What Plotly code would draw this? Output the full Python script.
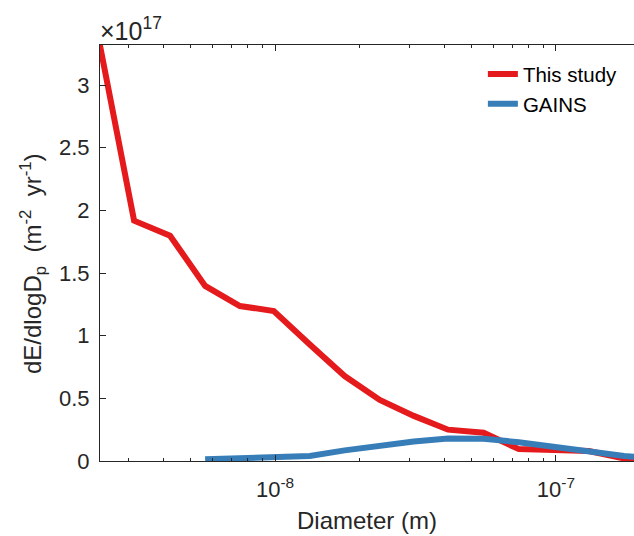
import plotly.graph_objects as go

# Diameter (m)
x_red = [2.38e-9, 3.15e-9, 4.23e-9, 5.64e-9, 7.5e-9, 9.9e-9, 1.33e-8, 1.77e-8,
         2.36e-8, 3.12e-8, 4.13e-8, 5.53e-8, 7.38e-8, 9.84e-8, 1.31e-7, 1.75e-7, 1.9e-7]
# dE/dlogDp in units of 1e17 m^-2 yr^-1
y_red = [3.32, 1.918, 1.798, 1.397, 1.237, 1.197, 0.93, 0.678,
         0.487, 0.36, 0.25, 0.225, 0.095, 0.09, 0.08, 0.02, 0.004]

x_blue = [5.64e-9, 7.5e-9, 9.9e-9, 1.33e-8, 1.77e-8, 2.36e-8, 3.12e-8, 4.13e-8,
          5.53e-8, 7.38e-8, 9.84e-8, 1.31e-7, 1.75e-7, 1.9e-7]
y_blue = [0.013, 0.022, 0.03, 0.04, 0.085, 0.125, 0.155, 0.18,
          0.177, 0.15, 0.11, 0.072, 0.04, 0.034]

names = ["This study", "GAINS"]
colors = ["#E41A1C", "#377EB8"]

y_ticks = [0, 0.5, 1, 1.5, 2, 2.5, 3]
y_ticktext = ["0", "0.5", "1", "1.5", "2", "2.5", "3"]
x_ticks = [1e-8, 1e-7]
x_ticktext = ["10<sup>-8</sup>", "10<sup>-7</sup>"]
x_minor = [m * 10.0 ** e for e in (-9, -8, -7) for m in range(2, 10)]

FONT = "Liberation Sans, Arial, Helvetica, sans-serif"
AX = "#262626"

fig = go.Figure()
fig.add_trace(go.Scatter(x=x_red, y=y_red, mode="lines", name=names[0],
                         line=dict(color=colors[0], width=6)))
fig.add_trace(go.Scatter(x=x_blue, y=y_blue, mode="lines", name=names[1],
                         line=dict(color=colors[1], width=6)))

fig.update_layout(
    width=634, height=536,
    margin=dict(l=100, r=0, t=45, b=75),
    paper_bgcolor="white", plot_bgcolor="white",
    font=dict(family=FONT, size=22, color=AX),
    showlegend=True,
    legend=dict(x=0.717, y=0.978, xanchor="left", yanchor="top",
                bgcolor="rgba(0,0,0,0)", font=dict(size=20.5, color="black"),
                tracegroupgap=0, itemwidth=30),
    xaxis=dict(type="log", range=[-8.623, -6.722],
               tickmode="array", tickvals=x_ticks, ticktext=x_ticktext,
               ticks="inside", ticklen=6, tickcolor=AX, tickwidth=1,
               showline=True, linecolor=AX, linewidth=1, mirror="ticks",
               showgrid=False, zeroline=False,
               minor=dict(tickvals=x_minor, ticks="inside", ticklen=3,
                          tickcolor=AX, tickwidth=1, showgrid=False),
               tickfont=dict(size=22, color=AX), ticklabelstandoff=9,
               title=dict(text="Diameter (m)", font=dict(size=24, color=AX), standoff=10)),
    yaxis=dict(range=[0, 3.32], tickmode="array", tickvals=y_ticks, ticktext=y_ticktext,
               ticks="inside", ticklen=6, tickcolor=AX, tickwidth=1,
               showline=True, linecolor=AX, linewidth=1,
               showgrid=False, zeroline=False, ticklabelstandoff=5,
               tickfont=dict(size=22, color=AX)),
    annotations=[
        dict(text="dE/dlogD<sub>p</sub>  (m<sup>-2</sup>  yr<sup>-1</sup>)",
             xref="paper", yref="paper", x=0, y=0.5, xshift=-67, yshift=-11,
             xanchor="center", yanchor="middle", textangle=-90, showarrow=False,
             font=dict(size=24, color=AX)),
        dict(text="×10<sup>17</sup>", xref="paper", yref="paper", x=0, y=1,
             xanchor="left", yanchor="bottom", xshift=-2, yshift=-2, showarrow=False,
             font=dict(size=25, color=AX)),
    ],
)

fig.write_html("out.html")
